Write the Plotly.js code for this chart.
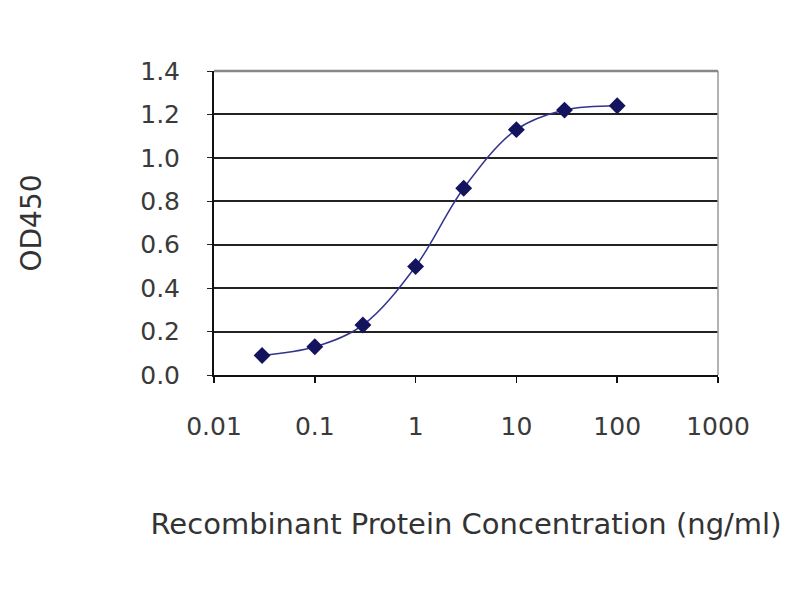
<!DOCTYPE html>
<html><head><meta charset="utf-8">
<script src="https://cdn.plot.ly/plotly-3.0.1.min.js"></script>
<style>html,body{margin:0;padding:0;background:#fff}#c{width:800px;height:600px}</style>
</head><body><div id="c"></div>
<script>
const concentrations = [0.03, 0.1, 0.3, 1, 3, 10, 30, 100];
const od450 = [0.09, 0.13, 0.23, 0.50, 0.86, 1.13, 1.22, 1.24];
const xTickVals = [0.01, 0.1, 1, 10, 100, 1000];
const xTickText = ['0.01', '0.1', '1', '10', '100', '1000'];
const yTickVals = [0, 0.2, 0.4, 0.6, 0.8, 1.0, 1.2, 1.4];

const fam = 'DejaVu Sans, Arial, sans-serif';

Plotly.newPlot('c', [{
  x: concentrations, y: od450, type: 'scatter', mode: 'lines+markers',
  line: {shape: 'spline', color: '#34348f', width: 1.5},
  marker: {symbol: 'diamond', size: 13, color: '#14145e'},
  showlegend: false
}], {
  width: 800, height: 600,
  margin: {l: 214, r: 82, t: 71, b: 225},
  paper_bgcolor: '#fff', plot_bgcolor: '#fff',
  font: {family: fam, size: 24, color: '#333'},
  xaxis: {
    type: 'log', range: [-2, 3], tickvals: xTickVals, ticktext: xTickText,
    showgrid: false, zeroline: false, showline: true, linecolor: '#111', linewidth: 2,
    ticks: 'outside', ticklen: 6, tickcolor: '#111', tickwidth: 1.5,
    ticklabelstandoff: 22,
    tickfont: {family: fam, size: 25, color: '#3a3a3a'},
    title: {text: 'Recombinant Protein Concentration (ng/ml)', standoff: 74,
      font: {family: fam, size: 29, color: '#333'}}
  },
  yaxis: {
    range: [0, 1.4], tickvals: yTickVals, tickformat: '.1f',
    showgrid: true, gridcolor: '#222', gridwidth: 2, zeroline: false,
    showline: true, linecolor: '#111', linewidth: 2,
    ticks: 'outside', ticklen: 5, tickcolor: '#222',
    ticklabelstandoff: 22,
    tickfont: {family: fam, size: 25, color: '#3a3a3a'},
    title: {text: 'OD450', standoff: 90, font: {family: fam, size: 28, color: '#333'}}
  },
  shapes: [
    {type: 'line', xref: 'paper', yref: 'paper', x0: 1, x1: 1, y0: 0, y1: 1,
     line: {color: '#999', width: 1.5}},
    {type: 'line', xref: 'paper', yref: 'paper', x0: 0, x1: 1, y0: 1, y1: 1,
     line: {color: '#888', width: 2.5}}
  ]
}, {displayModeBar: false, staticPlot: true});
</script></body></html>
